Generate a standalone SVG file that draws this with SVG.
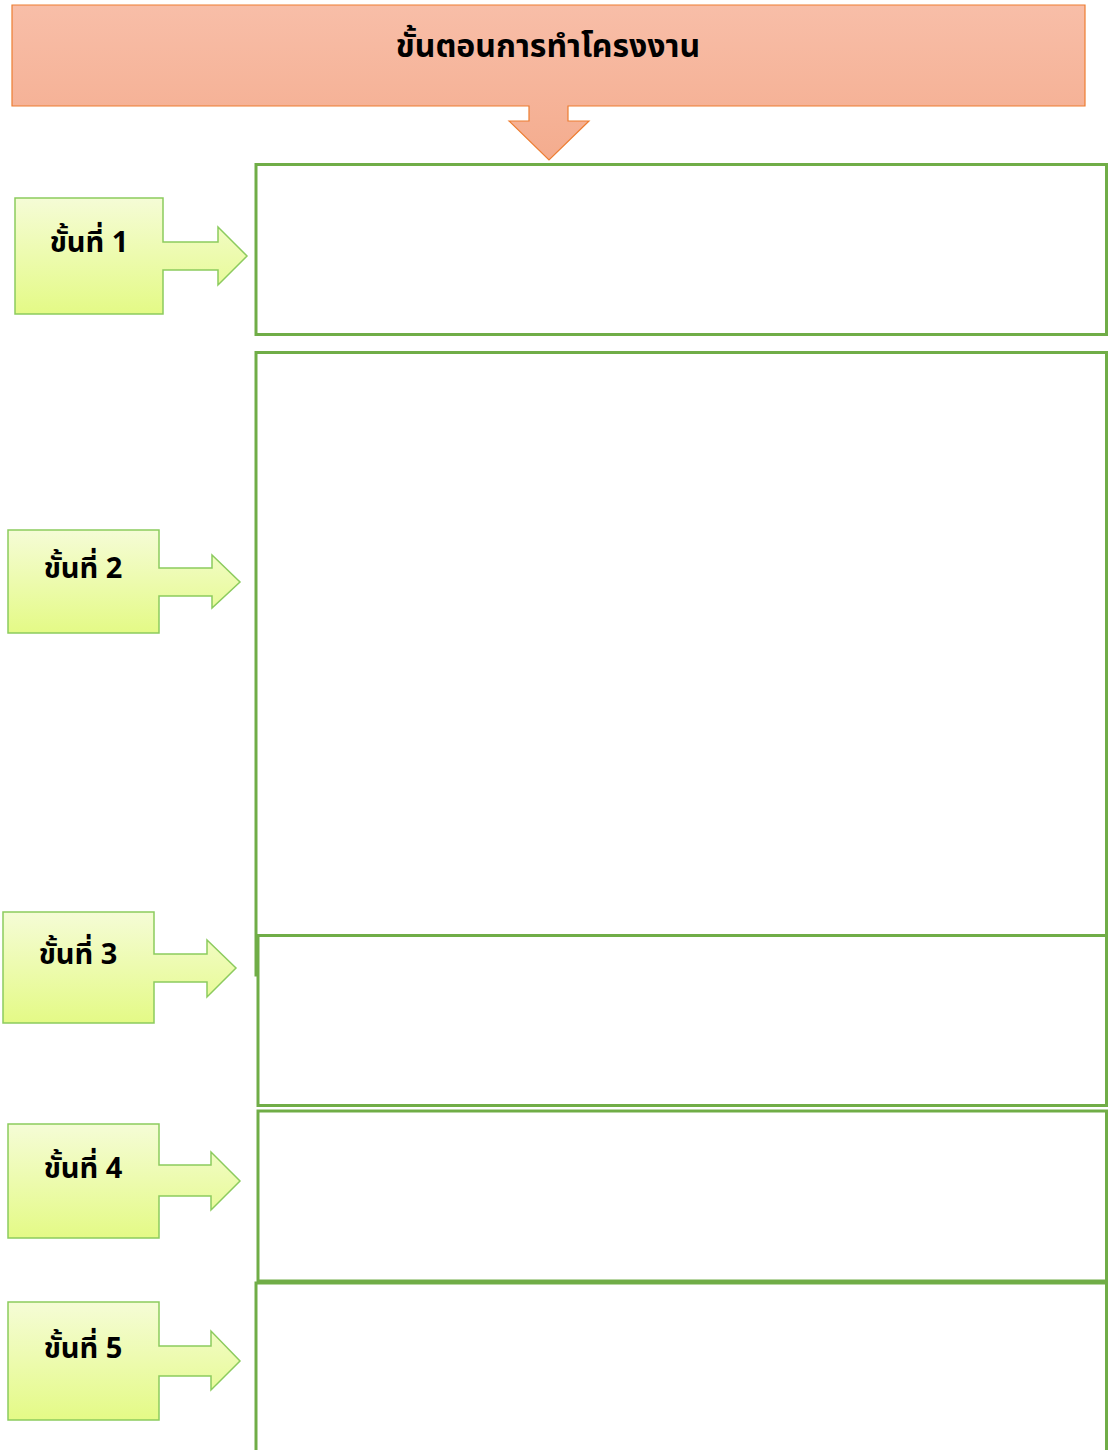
<svg xmlns="http://www.w3.org/2000/svg" width="1108" height="1450" viewBox="0 0 1108 1450">
<defs>
<linearGradient id="gOr" x1="0" y1="0" x2="0" y2="1">
<stop offset="0" stop-color="#F8BEA8"/><stop offset="1" stop-color="#F4AC8E"/>
</linearGradient>
<linearGradient id="gGr" gradientUnits="objectBoundingBox" x1="0" y1="0" x2="0" y2="1">
<stop offset="0" stop-color="#F5FCD6"/><stop offset="1" stop-color="#E4FA86"/>
</linearGradient>
<style>
.title{fill:url(#gOr);stroke:#ED7D31;stroke-width:1.2}
.step{fill:url(#gGr);stroke:#8CCB5E;stroke-width:1.5;stroke-linejoin:miter}
.box{fill:#fff;stroke:#70AD47;stroke-width:3}
.lbl{font-family:"Noto Sans Thai","Noto Sans","DejaVu Sans",sans-serif;font-weight:bold;font-size:29px;fill:#000;text-anchor:middle}
.ttl{font-family:"Noto Sans Thai","Noto Sans","DejaVu Sans",sans-serif;font-weight:bold;font-size:32px;fill:#000;text-anchor:middle}
</style>
</defs>
<g id="header">
<path class="title" d="M12,5 H1085 V106 H568 V121 H589 L549,160 L509,121 H529 V106 H12 Z"/>
<text class="ttl" x="548" y="57">ขั้นตอนการทำโครงงาน</text>
</g>
<g id="boxes">
<rect id="box1" class="box" x="256" y="164.5" width="850.5" height="170"/>
<rect id="box2" class="box" x="256" y="352.5" width="850.5" height="622.5"/>
<rect id="box3" class="box" x="258" y="935.5" width="848.5" height="170"/>
<rect id="box4" class="box" x="258" y="1111" width="848.5" height="170"/>
<rect id="box5" class="box" x="256" y="1283" width="850.5" height="180"/>
</g>
<g id="step1">
<path class="step" d="M15,198 H163 V242 H218 V227 L247,256 L218,285 V270 H163 V314 H15 Z"/>
<text class="lbl" x="89" y="252">ขั้นที่ 1</text>
</g>
<g id="step2">
<path class="step" d="M8,530 H159 V568 H212 V555 L240,582 L212,608 V596 H159 V633 H8 Z"/>
<text class="lbl" x="83" y="578">ขั้นที่ 2</text>
</g>
<g id="step3">
<path class="step" d="M3,912 H154 V954 H207 V940 L236,968 L207,997 V982 H154 V1023 H3 Z"/>
<text class="lbl" x="78" y="964">ขั้นที่ 3</text>
</g>
<g id="step4">
<path class="step" d="M8,1124 H159 V1165 H211 V1152 L240,1181 L211,1210 V1196 H159 V1238 H8 Z"/>
<text class="lbl" x="83" y="1178">ขั้นที่ 4</text>
</g>
<g id="step5">
<path class="step" d="M8,1302 H159 V1346 H211 V1331 L240,1361 L211,1390 V1376 H159 V1420 H8 Z"/>
<text class="lbl" x="83" y="1358">ขั้นที่ 5</text>
</g>
</svg>
